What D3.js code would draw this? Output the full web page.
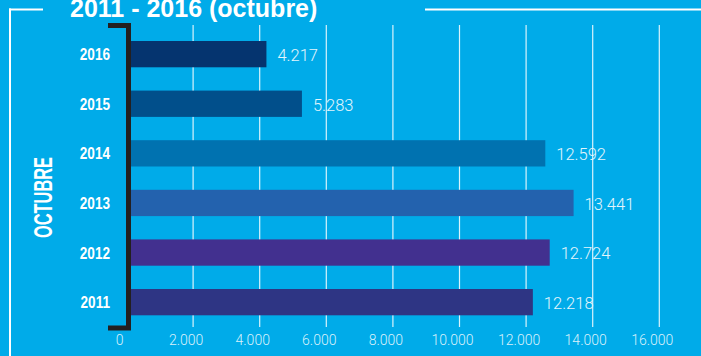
<!DOCTYPE html>
<html>
<head>
<meta charset="utf-8">
<script src="https://cdn.jsdelivr.net/npm/d3@7"></script>
<style>
  html, body { margin: 0; padding: 0; background: #00abe9; }
  svg { display: block; }
</style>
</head>
<body>
<svg id="chart" width="701" height="356"></svg>
<script>
// Monthly figures for October, by year
const years = ["2016", "2015", "2014", "2013", "2012", "2011"];
const values = [4217, 5283, 12592, 13441, 12724, 12218];
const barColors = ["#05346f", "#014f8b", "#0072b0", "#2362ae", "#42308f", "#2e3584"];
const xTicks = [0, 2000, 4000, 6000, 8000, 10000, 12000, 14000, 16000];
const titleText = "2011 - 2016 (octubre)";
const sideLabel = "OCTUBRE";

const W = 701, H = 356;
const svg = d3.select("#chart");

const es = d3.formatLocale({ decimal: ",", thousands: ".", grouping: [3], currency: ["", ""] });
const fmt = es.format(",d");

const x = d3.scaleLinear().domain([0, 16000]).range([126, 658.8]);
const y = d3.scaleBand().domain(years).range([28.6, 327.7])
  .paddingInner(0.47).paddingOuter(0.25);
const color = d3.scaleOrdinal().domain(years).range(barColors);

// background
svg.append("rect").attr("width", W).attr("height", H).attr("fill", "#00abe9");

// white frame around the panel
const frame = svg.append("g").attr("stroke", "#ffffff").attr("stroke-width", 2).attr("fill", "none");
frame.append("line").attr("x1", 9).attr("x2", 43).attr("y1", 9.5).attr("y2", 9.5);
frame.append("line").attr("x1", 425).attr("x2", W).attr("y1", 9.5).attr("y2", 9.5);
frame.append("line").attr("x1", 10).attr("x2", 10).attr("y1", 8.5).attr("y2", H);

// title
svg.append("text")
  .attr("x", 70).attr("y", 17)
  .attr("fill", "#ffffff")
  .attr("font-family", "'Liberation Sans', Arial, sans-serif")
  .attr("font-weight", "bold")
  .attr("font-size", 25)
  .text(titleText);

// vertical gridlines and value axis
const axisY = 327;
const axis = d3.axisBottom(x)
  .tickValues(xTicks)
  .tickFormat(fmt)
  .tickSize(-(axisY - 25))
  .tickPadding(8);

const gAxis = svg.append("g")
  .attr("transform", `translate(0,${axisY})`)
  .call(axis);
gAxis.select(".domain").remove();
gAxis.selectAll(".tick line")
  .attr("stroke", "rgba(255,255,255,0.85)")
  .attr("stroke-width", 1.2)
  .filter(d => d === 0).remove();
gAxis.selectAll(".tick text")
  .attr("fill", "#d9f1fb")
  .attr("font-family", "Roboto, 'Liberation Sans', sans-serif")
  .attr("font-weight", 300)
  .attr("font-size", 14)
  .attr("dx", -7);

// bars
svg.append("g").selectAll("rect")
  .data(years)
  .join("rect")
  .attr("x", x(0))
  .attr("y", d => y(d))
  .attr("width", (d, i) => x(values[i]) - x(0))
  .attr("height", y.bandwidth())
  .attr("fill", d => color(d));

// value labels
svg.append("g").selectAll("text")
  .data(years)
  .join("text")
  .attr("x", (d, i) => x(values[i]) + 11)
  .attr("y", d => y(d) + y.bandwidth() / 2 + 1)
  .attr("dy", "0.35em")
  .attr("fill", "#e3f5fc")
  .attr("font-family", "Roboto, 'Liberation Sans', sans-serif")
  .attr("font-weight", 300)
  .attr("font-size", 16.5)
  .text((d, i) => fmt(values[i]));

// year labels (condensed bold)
svg.append("g").selectAll("text")
  .data(years)
  .join("text")
  .attr("transform", d => `translate(110,${y(d) + y.bandwidth() / 2}) scale(0.8,1)`)
  .attr("text-anchor", "end")
  .attr("dy", "0.36em")
  .attr("fill", "#ffffff")
  .attr("font-family", "'Liberation Sans', Arial, sans-serif")
  .attr("font-weight", "bold")
  .attr("font-size", 17)
  .text(d => d);

// side label
svg.append("text")
  .attr("transform", `translate(42.5,197.5) rotate(-90)`)
  .attr("text-anchor", "middle")
  .attr("dy", "0.36em")
  .attr("fill", "#ffffff")
  .attr("font-family", "'Liberation Sans', Arial, sans-serif")
  .attr("font-weight", "bold")
  .attr("font-size", 25)
  .attr("textLength", 81)
  .attr("lengthAdjust", "spacingAndGlyphs")
  .text(sideLabel);

// bracket joining the year rows
svg.append("path")
  .attr("d", `M108,25.5 H128.5 V328 H108`)
  .attr("fill", "none")
  .attr("stroke", "#231f20")
  .attr("stroke-width", 5);
</script>
</body>
</html>
